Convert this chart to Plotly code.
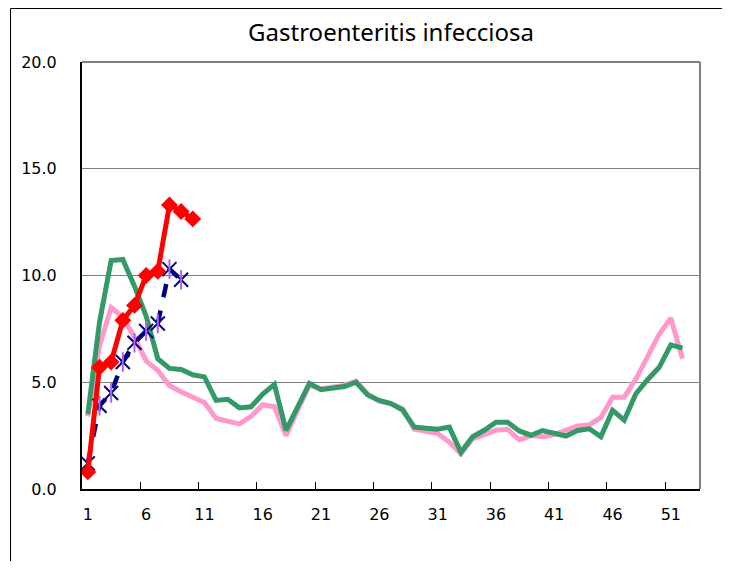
import plotly.graph_objects as go

weeks = list(range(1, 53))

# Pink series (weeks 1-52)
pink = [3.4, 6.7, 8.5, 8.05, 7.1, 6.0, 5.55, 4.85, 4.55, 4.3, 4.05, 3.3,
        3.15, 3.05, 3.4, 3.95, 3.85, 2.5, 3.7, 4.85, 4.7, 4.8, 4.85, 5.05,
        4.45, 4.1, 4.0, 3.75, 2.8, 2.7, 2.6, 2.2, 1.65, 2.35, 2.55, 2.75,
        2.8, 2.3, 2.5, 2.45, 2.55, 2.75, 2.95, 3.0, 3.35, 4.3, 4.3, 5.15,
        6.2, 7.25, 8.0, 6.1]

# Green series (weeks 1-52)
green = [3.5, 7.8, 10.7, 10.75, 9.5, 8.1, 6.1, 5.65, 5.6, 5.35, 5.25, 4.15,
         4.2, 3.8, 3.85, 4.45, 4.9, 2.75, 3.85, 4.95, 4.65, 4.75, 4.8, 5.0,
         4.4, 4.15, 4.0, 3.7, 2.9, 2.85, 2.8, 2.9, 1.72, 2.45, 2.75, 3.13,
         3.13, 2.72, 2.52, 2.74, 2.6, 2.48, 2.74, 2.82, 2.45, 3.68, 3.22,
         4.46, 5.12, 5.7, 6.75, 6.6]

# Blue dashed series (weeks 1-9)
blue_weeks = list(range(1, 10))
blue = [1.2, 3.9, 4.5, 5.95, 6.85, 7.4, 7.75, 10.3, 9.8]

# Red series (weeks 1-10)
red_weeks = list(range(1, 11))
red = [0.8, 5.7, 5.95, 7.9, 8.6, 10.0, 10.2, 13.3, 13.0, 12.65]

x_tick_vals = list(range(1, 53, 5))
x_tick_text = [str(v) for v in x_tick_vals]
y_tick_vals = [0, 5, 10, 15, 20]
y_tick_text = ["0.0", "5.0", "10.0", "15.0", "20.0"]

# The page body has an 8px margin, so the figure is offset by 8px.
W, H = 714, 553
L, R, T, B = 74, 22, 54, 72
PW, PH = W - L - R, H - T - B

fig = go.Figure()

fig.add_trace(go.Scatter(x=weeks, y=pink, mode="lines",
                         line=dict(color="#FF99CC", width=5), showlegend=False))
fig.add_trace(go.Scatter(x=weeks, y=green, mode="lines",
                         line=dict(color="#339966", width=5), showlegend=False))
fig.add_trace(go.Scatter(x=blue_weeks, y=blue, mode="lines+markers",
                         line=dict(color="#000080", width=4.5, dash="dash"),
                         marker=dict(symbol="x-thin-open", size=14,
                                     line=dict(color="#000080", width=2)),
                         showlegend=False))
fig.add_trace(go.Scatter(x=blue_weeks, y=blue, mode="markers",
                         marker=dict(symbol="line-ns-open", size=14,
                                     line=dict(color="#000080", width=2)),
                         showlegend=False))
fig.add_trace(go.Scatter(x=red_weeks, y=red, mode="lines+markers",
                         line=dict(color="#FF0000", width=5),
                         marker=dict(symbol="diamond", size=13, color="#FF0000"),
                         showlegend=False))

# invisible trace on xaxis2 to carry the between-category tick marks
fig.add_trace(go.Scatter(x=[0.5, 53.5], y=[None, None], xaxis="x2",
                         mode="lines", showlegend=False, hoverinfo="skip"))

tick_font = dict(family="DejaVu Sans, sans-serif", size=16, color="#000000")

fig.update_layout(
    width=W, height=H,
    margin=dict(l=L, r=R, t=T, b=B),
    paper_bgcolor="white", plot_bgcolor="white",
    title=dict(text="Gastroenteritis infecciosa", x=(L + PW / 2) / W,
               xanchor="center", y=1 - 25 / H, yanchor="middle",
               font=dict(family="Noto Sans, Open Sans, sans-serif", size=24,
                         color="#000000")),
    xaxis=dict(range=[0.5, 53.5], tickmode="array", tickvals=x_tick_vals,
               ticktext=x_tick_text, ticks="", showgrid=False,
               zeroline=False, showline=True, linecolor="#000000",
               linewidth=2, mirror=False, tickfont=tick_font,
               ticklabelstandoff=10),
    xaxis2=dict(range=[0.5, 53.5], overlaying="x", side="bottom",
                tickmode="array", tickvals=[0.5 + 5 * k for k in range(11)],
                ticktext=[""] * 11, ticks="inside", ticklen=7, tickwidth=1,
                tickcolor="#000000", showgrid=False, zeroline=False,
                showline=False),
    yaxis=dict(range=[0, 20], tickmode="array", tickvals=y_tick_vals,
               ticktext=y_tick_text, ticks="", showgrid=True,
               gridcolor="#808080", gridwidth=1, zeroline=False,
               showline=True, linecolor="#000000", linewidth=2,
               tickfont=tick_font, ticklabelstandoff=20),
    shapes=[
        # plot-area frame (top and right)
        dict(type="line", xref="paper", yref="paper", x0=0, x1=1, y0=1, y1=1,
             line=dict(color="#808080", width=2)),
        dict(type="line", xref="paper", yref="paper", x0=1, x1=1, y0=0, y1=1,
             line=dict(color="#808080", width=2)),
        # outer chart border
        dict(type="rect", xref="paper", yref="paper",
             x0=(2.5 - L) / PW, x1=(717 - L) / PW,
             y0=(T + PH - 600) / PH, y1=(T + PH - 0.5) / PH,
             line=dict(color="#000000", width=1), layer="below"),
    ],
)

fig.write_html("out.html")
